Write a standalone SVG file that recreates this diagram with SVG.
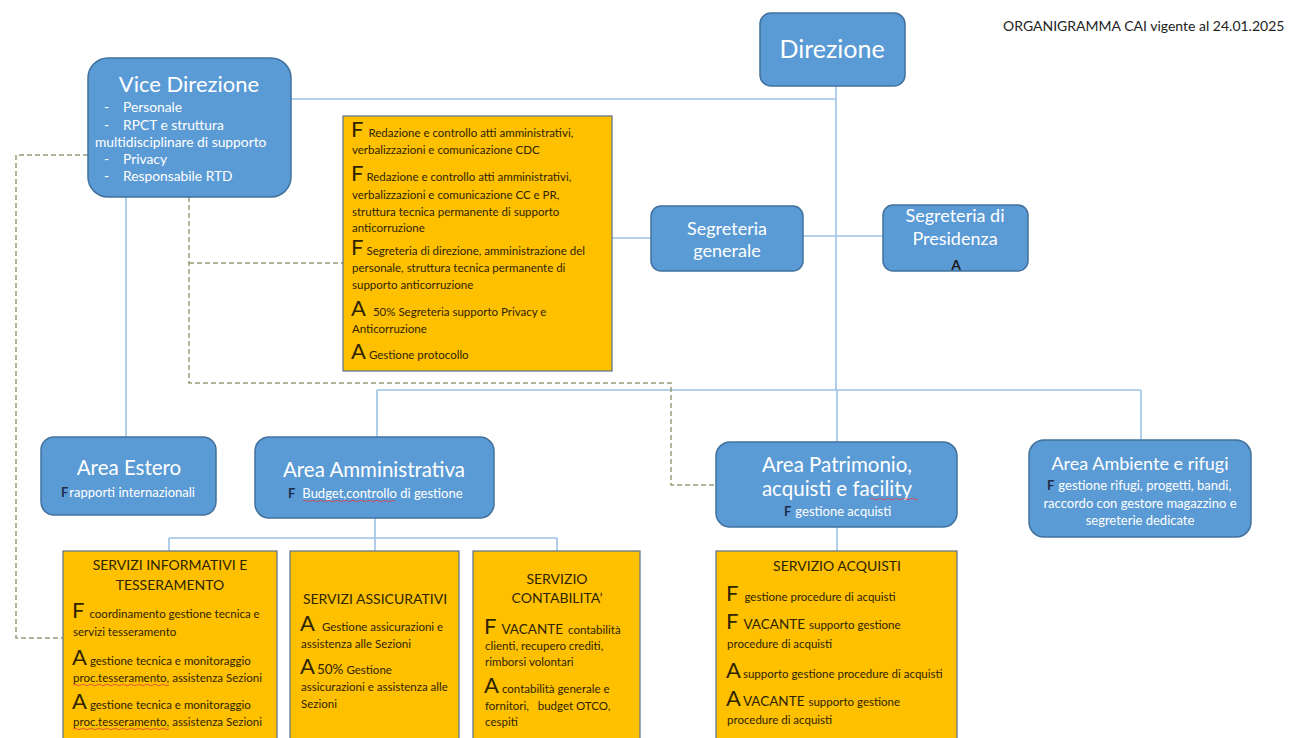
<svg xmlns="http://www.w3.org/2000/svg" width="1300" height="738" viewBox="0 0 1300 738">
<style>
.blue{fill:#5b9bd5;stroke:#41719c;stroke-width:1.5}
.yel{fill:#ffc000;stroke:#5a7090;stroke-width:1.2}
.ln{fill:none;stroke:#9dc3e6;stroke-width:1.6}
.dash{fill:none;stroke:#979c78;stroke-width:1.5;stroke-dasharray:5,3}
.red{fill:none;stroke:#e04040;stroke-width:0.8}
text{font-family:Lato,"Liberation Sans",sans-serif}
.w{fill:#ffffff}
.t{fill:#2e2400;font-size:11.5px}
.big{font-size:22px}
.m{font-size:13.5px}
.h{font-size:14px}
.nv{fill:#1f2d4d;font-weight:bold}
.ws{fill:#ffffff;font-size:13px}
</style>
<rect width="1300" height="738" fill="#ffffff"/>
<text x="1003" y="31" font-size="14px" fill="#222">ORGANIGRAMMA CAI vigente al 24.01.2025</text>

<g id="connectors">
<path class="ln" d="M836 86 V390 M291 99 H836 M377 390 H1141 M377 390 V437 M837 390 V442 M1141 390 V440"/>
<path class="ln" d="M612 238 H651 M803 236 H883"/>
<path class="ln" d="M126 197 V437"/>
<path class="ln" d="M375 518 V538 M169 538 H557 M169 538 V551 M375 538 V551 M557 538 V551"/>
<path class="ln" d="M837 527 V551"/>
<path class="dash" d="M88 155 H16 V638 H63"/>
<path class="dash" d="M189 197 V383 H671 V485 H716 M189 263 H343"/>
</g>

<g id="direzione">
<rect class="blue" x="760" y="13" width="145" height="73" rx="11"/>
<text class="w" x="832" y="58" font-size="25px" text-anchor="middle">Direzione</text>
</g>

<g id="vice-direzione">
<rect class="blue" x="88" y="58" width="203" height="139" rx="20"/>
<text class="w" x="189" y="92" font-size="22px" text-anchor="middle">Vice Direzione</text>
<text class="w" font-size="13.8px">
<tspan x="104" y="112">-</tspan><tspan x="123" y="112">Personale</tspan>
<tspan x="104" y="130">-</tspan><tspan x="123" y="130">RPCT e struttura</tspan>
<tspan x="95" y="147">multidisciplinare di supporto</tspan>
<tspan x="104" y="164">-</tspan><tspan x="123" y="164">Privacy</tspan>
<tspan x="104" y="181">-</tspan><tspan x="123" y="181">Responsabile RTD</tspan>
</text>
</g>

<g id="segreteria-box">
<rect class="yel" x="343" y="116" width="269" height="255"/>
<text class="t" x="351" y="137"><tspan class="big">F</tspan><tspan dx="5">Redazione e controllo atti amministrativi,</tspan></text>
<text class="t" x="352" y="154">verbalizzazioni e comunicazione CDC</text>
<text class="t" x="351" y="181"><tspan class="big">F</tspan><tspan dx="3">Redazione e controllo atti amministrativi,</tspan></text>
<text class="t" x="352" y="199">verbalizzazioni e comunicazione CC e PR,</text>
<text class="t" x="352" y="216">struttura tecnica permanente di supporto</text>
<text class="t" x="352" y="232">anticorruzione</text>
<text class="t" x="351" y="255"><tspan class="big">F</tspan><tspan dx="3">Segreteria di direzione, amministrazione del</tspan></text>
<text class="t" x="352" y="272">personale, struttura tecnica permanente di</text>
<text class="t" x="352" y="289">supporto anticorruzione</text>
<text class="t" x="351" y="316"><tspan class="big">A</tspan><tspan dx="7">50% Segreteria supporto Privacy e</tspan></text>
<text class="t" x="352" y="333">Anticorruzione</text>
<text class="t" x="351" y="359"><tspan class="big">A</tspan><tspan dx="3">Gestione protocollo</tspan></text>
</g>

<g id="segreteria-generale">
<rect class="blue" x="651" y="206" width="152" height="65" rx="10"/>
<text class="w" x="727" y="235" font-size="18px" text-anchor="middle">Segreteria</text>
<text class="w" x="727" y="257" font-size="18px" text-anchor="middle">generale</text>
</g>

<g id="segreteria-presidenza">
<rect class="blue" x="883" y="205" width="145" height="66" rx="10"/>
<text class="w" x="955" y="222" font-size="18px" text-anchor="middle">Segreteria di</text>
<text class="w" x="955" y="245" font-size="18px" text-anchor="middle">Presidenza</text>
<text x="956" y="270" font-size="14px" font-weight="bold" text-anchor="middle" fill="#1a1a1a">A</text>
</g>

<g id="area-estero">
<rect class="blue" x="41" y="437" width="175" height="78" rx="13"/>
<text class="w" x="129" y="475" font-size="20.5px" text-anchor="middle">Area Estero</text>
<text x="61" y="497" class="ws"><tspan class="nv">F</tspan><tspan dx="1">rapporti internazionali</tspan></text>
</g>

<g id="area-amministrativa">
<rect class="blue" x="255" y="437" width="239" height="81" rx="14"/>
<text class="w" x="374" y="477" font-size="20.5px" text-anchor="middle">Area Amministrativa</text>
<text x="288" y="498" class="ws"><tspan class="nv">F</tspan><tspan dx="7">Budget,controllo di gestione</tspan></text>
<path class="red" d="M303 501 q2 -1.5 4 0 t4 0 t4 0 t4 0 t4 0 t4 0 t4 0 t4 0 t4 0 t4 0 t4 0 t4 0 t4 0 t4 0 t4 0 t4 0 t4 0 t4 0 t4 0 t4 0 t4 0 t4 0 t4 0"/>
</g>

<g id="area-patrimonio">
<rect class="blue" x="716" y="442" width="241" height="85" rx="14"/>
<text class="w" x="837" y="472" font-size="20.5px" text-anchor="middle">Area Patrimonio,</text>
<text class="w" x="837" y="496" font-size="20.5px" text-anchor="middle">acquisti e facility</text>
<path class="red" d="M870 499 q2 -1.5 4 0 t4 0 t4 0 t4 0 t4 0 t4 0 t4 0 t4 0 t4 0 t4 0 t4 0 t4 0"/>
<text x="784" y="516" class="ws"><tspan class="nv">F</tspan><tspan dx="4">gestione acquisti</tspan></text>
</g>

<g id="area-ambiente">
<rect class="blue" x="1029" y="440" width="222" height="97" rx="15"/>
<text class="w" x="1140" y="470" font-size="18px" text-anchor="middle">Area Ambiente e rifugi</text>
<text x="1047" y="490" class="ws"><tspan class="nv">F</tspan><tspan dx="4">gestione rifugi, progetti, bandi,</tspan></text>
<text class="ws" x="1140" y="508" text-anchor="middle">raccordo con gestore magazzino e</text>
<text class="ws" x="1140" y="525" text-anchor="middle">segreterie dedicate</text>
</g>

<g id="servizi-informativi">
<rect class="yel" x="63" y="551" width="214" height="195"/>
<text class="t h" x="170" y="570" text-anchor="middle">SERVIZI INFORMATIVI E</text>
<text class="t h" x="170" y="590" text-anchor="middle">TESSERAMENTO</text>
<text class="t" x="72" y="618"><tspan class="big">F</tspan><tspan dx="5">coordinamento gestione tecnica e</tspan></text>
<text class="t" x="73" y="636">servizi tesseramento</text>
<text class="t" x="72" y="665"><tspan class="big">A</tspan><tspan dx="3">gestione tecnica e monitoraggio</tspan></text>
<text class="t" x="73" y="682">proc.tesseramento, assistenza Sezioni</text>
<path class="red" d="M73 685 q2 -1.5 4 0 t4 0 t4 0 t4 0 t4 0 t4 0 t4 0 t4 0 t4 0 t4 0 t4 0 t4 0 t4 0 t4 0 t4 0 t4 0 t4 0 t4 0 t4 0 t4 0 t4 0 t4 0 t4 0 t4 0"/>
<text class="t" x="72" y="709"><tspan class="big">A</tspan><tspan dx="3">gestione tecnica e monitoraggio</tspan></text>
<text class="t" x="73" y="726">proc.tesseramento, assistenza Sezioni</text>
<path class="red" d="M73 729 q2 -1.5 4 0 t4 0 t4 0 t4 0 t4 0 t4 0 t4 0 t4 0 t4 0 t4 0 t4 0 t4 0 t4 0 t4 0 t4 0 t4 0 t4 0 t4 0 t4 0 t4 0 t4 0 t4 0 t4 0 t4 0"/>
</g>

<g id="servizi-assicurativi">
<rect class="yel" x="290" y="551" width="169" height="195"/>
<text class="t h" x="375" y="604" text-anchor="middle">SERVIZI ASSICURATIVI</text>
<text class="t" x="300" y="631"><tspan class="big">A</tspan><tspan dx="7">Gestione assicurazioni e</tspan></text>
<text class="t" x="301" y="648">assistenza alle Sezioni</text>
<text class="t" x="300" y="674"><tspan class="big">A</tspan><tspan class="m" dx="2">50%</tspan><tspan dx="3">Gestione</tspan></text>
<text class="t" x="301" y="691">assicurazioni e assistenza alle</text>
<text class="t" x="301" y="708">Sezioni</text>
</g>

<g id="servizio-contabilita">
<rect class="yel" x="473" y="551" width="167" height="195"/>
<text class="t h" x="557" y="584" text-anchor="middle">SERVIZIO</text>
<text class="t h" x="557" y="603" text-anchor="middle">CONTABILITA’</text>
<text class="t" x="484" y="634"><tspan class="big">F</tspan><tspan class="m" dx="5">VACANTE</tspan><tspan dx="5">contabilità</tspan></text>
<text class="t" x="485" y="650">clienti, recupero crediti,</text>
<text class="t" x="485" y="666">rimborsi volontari</text>
<text class="t" x="484" y="693"><tspan class="big">A</tspan><tspan dx="3">contabilità generale e</tspan></text>
<text class="t" x="485" y="710" xml:space="preserve">fornitori,   budget OTCO,</text>
<text class="t" x="485" y="726">cespiti</text>
</g>

<g id="servizio-acquisti">
<rect class="yel" x="716" y="551" width="241" height="195"/>
<text class="t h" x="837" y="571" text-anchor="middle">SERVIZIO ACQUISTI</text>
<text class="t" x="726" y="601"><tspan class="big">F</tspan><tspan dx="6">gestione procedure di acquisti</tspan></text>
<text class="t" x="726" y="629"><tspan class="big">F</tspan><tspan class="m" dx="5">VACANTE</tspan><tspan dx="4">supporto gestione</tspan></text>
<text class="t" x="727" y="648">procedure di acquisti</text>
<text class="t" x="726" y="678"><tspan class="big">A</tspan><tspan dx="2">supporto gestione procedure di acquisti</tspan></text>
<text class="t" x="726" y="706"><tspan class="big">A</tspan><tspan class="m" dx="2">VACANTE</tspan><tspan dx="4">supporto gestione</tspan></text>
<text class="t" x="727" y="724">procedure di acquisti</text>
</g>
</svg>
